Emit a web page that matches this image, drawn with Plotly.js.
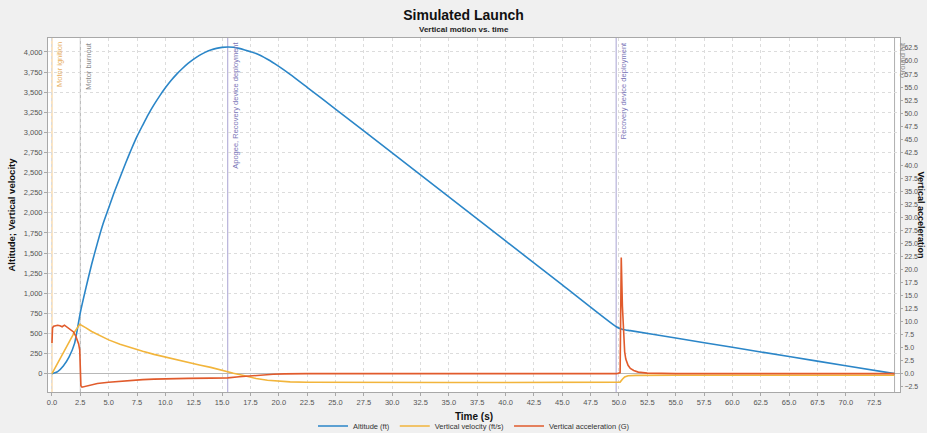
<!DOCTYPE html>
<html>
<head>
<meta charset="utf-8">
<script src="https://cdn.plot.ly/plotly-3.0.1.min.js"></script>
<style>html,body{margin:0;padding:0;background:#f0f0f0;}#chart{width:927px;height:433px;}</style>
</head>
<body>
<div id="chart"></div>
<script>
// ---- Data ----
const timeAltitude = [0, 0.5, 1.0, 1.5, 2.0, 2.5, 3.0, 3.5, 4.0, 4.5, 5.0, 5.5, 6.0, 6.5, 7.0, 7.5, 8.0, 8.5, 9.0, 9.5, 10.0, 10.5, 11.0, 11.5, 12.0, 12.5, 13.0, 13.5, 14.0, 14.5, 15.0, 15.5, 16.0, 16.5, 17.0, 18.0, 19.0, 20.0, 21.0, 22.5, 25, 30, 35, 40, 45, 49.8, 50.2, 50.6, 51.0, 55, 60, 65, 70, 74.3];
const altitude = [0, 25, 95, 205, 380, 760, 1070, 1360, 1620, 1860, 2060, 2260, 2440, 2620, 2790, 2950, 3090, 3225, 3345, 3455, 3555, 3645, 3725, 3795, 3858, 3912, 3958, 3995, 4024, 4045, 4057, 4062, 4058, 4045, 4025, 3980, 3909, 3821, 3722, 3561, 3291, 2745, 2198, 1650, 1105, 580, 555, 543, 535, 443, 328, 213, 99, 0];

const timeVelocity = [0, 0.5, 1.0, 1.5, 2.0, 2.45, 2.6, 3.0, 3.5, 4.0, 5.0, 6.0, 7.0, 8.0, 9.0, 10, 11, 12, 13, 14, 15, 15.5, 16, 17, 18, 19, 20, 21, 22.5, 25, 30, 35, 40, 45, 49.8, 50.1, 50.3, 50.5, 50.8, 51.5, 55, 60, 65, 70, 74.3];
const velocity = [0, 130, 265, 400, 520, 615, 605, 570, 525, 488, 420, 365, 320, 278, 240, 205, 170, 140, 108, 78, 40, 20, 5, -25, -60, -82, -95, -102, -106, -108, -109, -110, -110, -110, -110, -105, -70, -40, -25, -21, -20, -20, -20, -20, -20];

const timeAcceleration = [0, 0.05, 0.15, 0.3, 0.5, 0.7, 0.9, 1.1, 1.3, 1.5, 1.7, 1.9, 2.1, 2.25, 2.35, 2.45, 2.55, 2.65, 3, 4, 5, 6, 7, 8, 9, 10, 12, 14, 15.5, 16.5, 17.5, 18.5, 19.5, 20.5, 21.5, 22.5, 25, 30, 40, 49.8, 50.1, 50.2, 50.3, 50.4, 50.5, 50.6, 50.8, 51, 51.3, 51.7, 52.5, 55, 60, 70, 74.3];
const acceleration = [5.9, 8.8, 9.1, 9.2, 9.3, 9.2, 9.0, 9.3, 9.0, 8.6, 8.4, 8.0, 7.2, 6.4, 5.7, 4.5, -2.3, -2.6, -2.4, -1.9, -1.65, -1.45, -1.3, -1.15, -1.05, -0.98, -0.9, -0.85, -0.8, -0.6, -0.4, -0.25, -0.12, -0.05, 0, 0, 0, 0, 0, 0, 0.2, 22.3, 13, 7.8, 4.2, 2.8, 1.6, 1.0, 0.6, 0.3, 0.1, 0, 0, 0, 0];

const seriesNames = ["Altitude (ft)", "Vertical velocity (ft/s)", "Vertical acceleration (G)"];

const eventTimes = [0, 2.5, 15.5, 49.75, 74.3];
const eventLabels = ["Motor ignition", "Motor burnout", "Apogee, Recovery device deployment", "Recovery device deployment", "Ground hit"];
const eventLineColors = ["#f2c88a", "#b0b0b0", "#a9a3d3", "#a9a3d3", "#b0b0b0"];
const eventTextColors = ["#e8b060", "#8a8a8a", "#7b76b8", "#7b76b8", "#8a8a8a"];

const xTickStep = 2.5;
const yLeftTickStep = 250;
const yRightTickStep = 2.5;

// ---- Chart ----
const FONT = "Liberation Sans, Arial, sans-serif";
const PL = 48, PR = 900, PT = 38, PB = 392;
const traces = [
  {x: timeAltitude, y: altitude, name: seriesNames[0], type: "scatter", mode: "lines",
   line: {color: "#2b86c8", width: 1.6, shape: "spline", smoothing: 0.6}, yaxis: "y"},
  {x: timeVelocity, y: velocity, name: seriesNames[1], type: "scatter", mode: "lines",
   line: {color: "#f2b53c", width: 1.6}, yaxis: "y"},
  {x: timeAcceleration, y: acceleration, name: seriesNames[2], type: "scatter", mode: "lines",
   line: {color: "#e15b2c", width: 1.6}, yaxis: "y2"}
];

const shapes = eventTimes.map((t, i) => ({
  type: "line", xref: "x", yref: "paper", x0: t, x1: t, y0: 0, y1: 1,
  line: {color: eventLineColors[i], width: 1}, layer: "below"
}));

const annotations = eventTimes.map((t, i) => ({
  x: t, xref: "x", y: 1, yref: "paper", text: eventLabels[i], showarrow: false,
  textangle: -90, xanchor: "left", yanchor: "top", xshift: 1, yshift: -2,
  font: {family: FONT, size: 7.5, color: eventTextColors[i]}
}));
annotations.push({
  x: (463.5 - PL) / (PR - PL), xref: "paper", y: (PB - 30) / (PB - PT), yref: "paper", text: "Vertical motion vs. time",
  showarrow: false, xanchor: "center", yanchor: "middle",
  font: {family: FONT, size: 8, color: "#222", weight: "bold"}
});
annotations.push({
  x: (920.5 - PL) / (PR - PL), xref: "paper", y: 0.5, yref: "paper", text: "Vertical acceleration",
  showarrow: false, textangle: 90, xanchor: "center", yanchor: "middle",
  font: {family: FONT, size: 9, color: "#111", weight: "bold"}
});

const layout = {
  width: 927, height: 433,
  margin: {l: PL, r: 927 - PR, t: PT, b: 433 - PB, pad: 0, autoexpand: false},
  paper_bgcolor: "#f0f0f0", plot_bgcolor: "#ffffff",
  font: {family: FONT, size: 7.5, color: "#555"},
  title: {text: "Simulated Launch", x: 0.5, xref: "container", xanchor: "center",
          y: 1 - 15 / 433, yref: "container", yanchor: "middle",
          font: {family: FONT, size: 14, color: "#111", weight: "bold"}},
  showlegend: true,
  legend: {orientation: "h", x: 0.5, xanchor: "center", y: (PB - 426) / (PB - PT), yanchor: "middle",
           bgcolor: "rgba(0,0,0,0)", font: {family: FONT, size: 7.5, color: "#333"},
           itemwidth: 30, tracegroupgap: 0},
  xaxis: {range: [-0.35, 74.78], tick0: 0, dtick: xTickStep, tickformat: ".1f",
          showgrid: true, gridcolor: "#dcdcdc", griddash: "dot", gridwidth: 1,
          zeroline: false, showline: true, linecolor: "#a8a8a8", linewidth: 1, mirror: true,
          ticks: "outside", ticklen: 3, tickcolor: "#a8a8a8",
          title: {text: "Time (s)", standoff: 6, font: {family: FONT, size: 10, color: "#111", weight: "bold"}}},
  yaxis: {range: [-228, 4174], tick0: 0, dtick: yLeftTickStep, tickformat: ",d",
          showgrid: true, gridcolor: "#dcdcdc", griddash: "dot", gridwidth: 1,
          zeroline: true, zerolinecolor: "#b8b8b8", zerolinewidth: 1,
          showline: true, linecolor: "#a8a8a8", linewidth: 1, mirror: true,
          ticks: "outside", ticklen: 3, tickcolor: "#a8a8a8",
          title: {text: "Altitude; Vertical velocity", standoff: 6, font: {family: FONT, size: 9.5, color: "#111", weight: "bold"}}},
  yaxis2: {range: [-3.52, 64.42], tick0: 0, dtick: yRightTickStep, tickformat: ".1f",
           overlaying: "y", side: "right", showgrid: false, zeroline: false,
           showline: true, linecolor: "#a8a8a8", linewidth: 1,
           ticks: "outside", ticklen: 2, tickcolor: "#a8a8a8",
           tickfont: {family: FONT, size: 7, color: "#555"}},
  shapes: shapes,
  annotations: annotations
};

Plotly.newPlot("chart", traces, layout, {displayModeBar: false, staticPlot: true});
</script>
</body>
</html>
